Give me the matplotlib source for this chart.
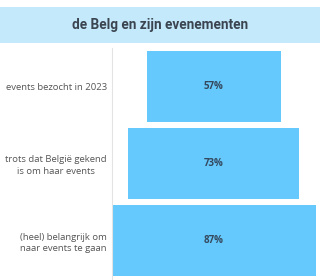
import numpy as np
import matplotlib.pyplot as plt
from matplotlib.patches import Rectangle

# data
categories = ["events bezocht in 2023",
              "trots dat België gekend\nis om haar events",
              "(heel) belangrijk om\nnaar events te gaan"]
values = [57, 73, 87]
value_labels = ["57%", "73%", "87%"]

title = "de Belg en zijn evenementen"

plt.rcParams['font.family'] = ['Open Sans', 'DejaVu Sans']

fig = plt.figure(figsize=(3.2, 2.8), dpi=100)
fig.patch.set_facecolor("white")

# title band
fig.patches.append(Rectangle((0, 1 - 43 / 280), 1, 36 / 280, transform=fig.transFigure,
                             facecolor="#c4e9fb", edgecolor="none", zorder=0))
fig.text(0.5, 1 - 25 / 280, title, ha="center", va="center", fontsize=9.8,
         fontweight="bold", color="#3b4550", family=['Roboto', 'DejaVu Sans'])

ax = fig.add_axes([111.7 / 320, 1 / 280, 204 / 320, 231 / 280])

y = np.arange(len(values))
vals = np.array(values)
ax.barh(y, vals, left=-vals / 2, height=0.935, color="#66c9fd", edgecolor="none")

for yi, lab in zip(y, value_labels):
    ax.text(0, yi, lab, ha="center", va="center", fontsize=7,
            fontweight="bold", color="#34495e")

ax.set_xlim(-max(values) / 2, max(values) / 2)
ax.set_ylim(len(values) - 0.5, -0.5)
ax.set_xticks([])
ax.set_yticks(y)
ax.set_yticklabels(categories, fontsize=6.8, color="#555555", multialignment="center",
                   linespacing=1.35)
ax.tick_params(axis="y", length=0, pad=3.4)

for s in ["top", "right", "bottom"]:
    ax.spines[s].set_visible(False)
ax.spines["left"].set_color("#e3e3e3")
ax.spines["left"].set_linewidth(0.8)

fig.savefig("out.png", dpi=100)
